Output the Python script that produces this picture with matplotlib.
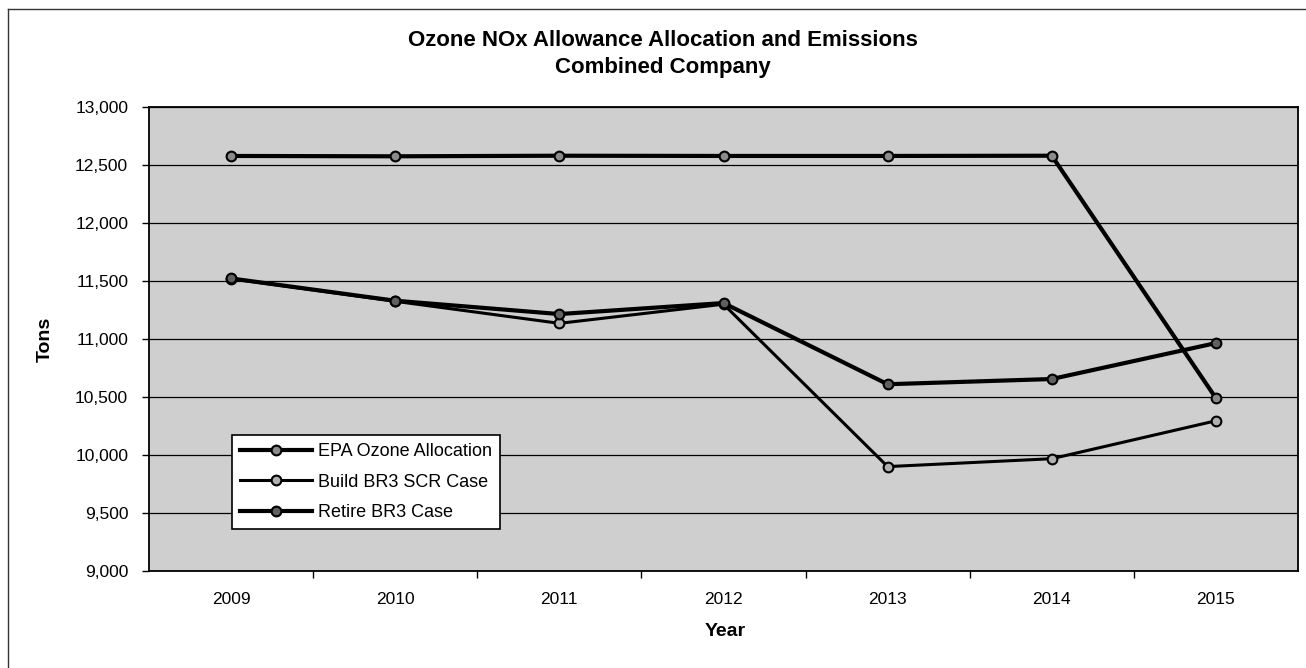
import matplotlib
matplotlib.use('Agg')
import matplotlib.pyplot as plt
from matplotlib.lines import Line2D
from matplotlib.ticker import FuncFormatter, FixedLocator

plt.rcParams['font.family'] = ['Liberation Sans', 'DejaVu Sans']

years = ['2009', '2010', '2011', '2012', '2013', '2014', '2015']
epa_allocation = [12578, 12575, 12580, 12578, 12578, 12580, 10490]
build_br3_scr = [11520, 11325, 11135, 11300, 9900, 9968, 10295]
retire_br3 = [11522, 11330, 11215, 11310, 10610, 10655, 10965]

W, H = 1306, 668
fig = plt.figure(figsize=(W / 100, H / 100), dpi=100)
ax = fig.add_axes([149 / W, 1 - 571 / H, (1298 - 149) / W, (571 - 107) / H])
ax.set_facecolor('#cfcfcf')

x = list(range(len(years)))
ax.plot(x, epa_allocation, color='black', lw=3, marker='o', ms=7,
        mfc='#8a8a8a', mec='black', mew=1.5, label='EPA Ozone Allocation', zorder=4)
ax.plot(x, build_br3_scr, color='black', lw=2.2, marker='o', ms=7,
        mfc='#b0b0b0', mec='black', mew=1.5, label='Build BR3 SCR Case', zorder=3)
ax.plot(x, retire_br3, color='black', lw=3, marker='o', ms=7,
        mfc='#606060', mec='black', mew=1.5, label='Retire BR3 Case', zorder=4)

ax.set_xlim(-0.5, len(years) - 0.5)
ax.set_ylim(9000, 13000)
ax.set_yticks(range(9000, 13001, 500))
ax.yaxis.set_major_formatter(FuncFormatter(lambda v, p: f'{int(v):,}'))
ax.grid(axis='y', color='black', lw=0.9)
ax.set_axisbelow(True)

ax.set_xticks(x)
ax.set_xticklabels(years)
ax.xaxis.set_minor_locator(FixedLocator([i + 0.5 for i in x[:-1]]))
ax.tick_params(axis='x', which='major', length=0, pad=15, labelsize=12.5)
ax.tick_params(axis='x', which='minor', length=5, width=1, direction='out')
ax.tick_params(axis='y', length=5, width=1, pad=10, labelsize=12.5)

for s in ax.spines.values():
    s.set_color('black')
    s.set_linewidth(1.3)

fig.text(663 / W, 1 - 41 / H, 'Ozone NOx Allowance Allocation and Emissions',
         ha='center', va='center', fontsize=16, fontweight='bold')
fig.text(663 / W, 1 - 68 / H, 'Combined Company',
         ha='center', va='center', fontsize=16, fontweight='bold')
fig.text(45 / W, 1 - 339 / H, 'Tons', rotation=90, ha='center', va='center',
         fontsize=14, fontweight='bold')
fig.text(725 / W, 1 - 631 / H, 'Year', ha='center', va='center',
         fontsize=14, fontweight='bold')

leg = ax.legend(loc='upper left', bbox_to_anchor=(232 / W, 1 - 435 / H),
                bbox_transform=fig.transFigure, borderaxespad=0, fontsize=13,
                fancybox=False, framealpha=1, edgecolor='black',
                handlelength=4.0, handletextpad=0.3, labelspacing=0.75,
                borderpad=0.45)
leg.get_frame().set_linewidth(1.2)

# outer chart border (left and top edges)
fig.add_artist(Line2D([8 / W, 8 / W], [0, 1 - 9 / H], transform=fig.transFigure,
                      color='#333333', lw=1))
fig.add_artist(Line2D([8 / W, 1], [1 - 9 / H, 1 - 9 / H], transform=fig.transFigure,
                      color='#333333', lw=1))

fig.savefig('out.png', dpi=100)
